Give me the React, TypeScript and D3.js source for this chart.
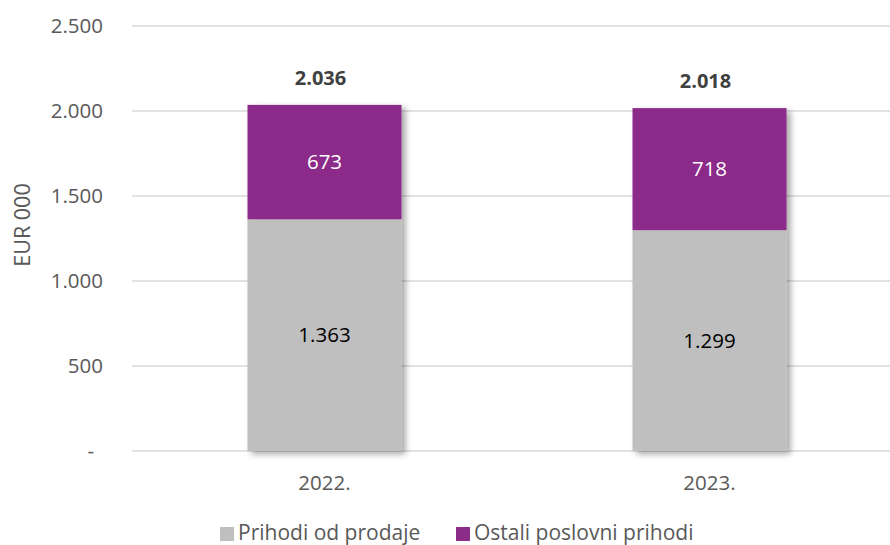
import * as d3 from 'd3'
import React, { useEffect, useRef } from 'react'

const years = ['2022.', '2023.']
const prodaja = [1363, 1299]
const ostali = [673, 718]
const totals = [2036, 2018]
const yTicks = [0, 500, 1000, 1500, 2000, 2500]
const seriesNames = ['Prihodi od prodaje', 'Ostali poslovni prihodi']
const seriesColors = ['#BFBFBF', '#8B2C89']

const fmt = (v: number) => (v === 0 ? '-' : v.toLocaleString('de-DE'))

const App = (): JSX.Element => {
    const ref = useRef<SVGSVGElement>(null)

    useEffect(() => {
        const width = 890
        const height = 545
        const font = "'Open Sans', sans-serif"
        const fs = '20.5px'
        const svg = d3.select(ref.current)
        svg.selectAll('*').remove()

        const y = d3.scaleLinear().domain([0, 2500]).range([451, 26])
        const x = d3.scaleBand().domain(years).range([132, 902]).paddingInner(0.6).paddingOuter(0.3)

        // shadow filter
        const defs = svg.append('defs')
        defs.append('filter')
            .attr('id', 'shadow')
            .attr('x', '-20%')
            .attr('y', '-20%')
            .attr('width', '150%')
            .attr('height', '150%')
            .append('feDropShadow')
            .attr('dx', 4)
            .attr('dy', 3)
            .attr('stdDeviation', 3)
            .attr('flood-color', '#000')
            .attr('flood-opacity', 0.35)

        // gridlines
        svg.append('g')
            .selectAll('line')
            .data(yTicks)
            .enter()
            .append('line')
            .attr('x1', 132)
            .attr('x2', width)
            .attr('y1', (d) => y(d))
            .attr('y2', (d) => y(d))
            .style('stroke', '#D9D9D9')
            .style('stroke-width', 1.5)

        // tick labels
        svg.append('g')
            .selectAll('text')
            .data(yTicks)
            .enter()
            .append('text')
            .attr('x', (d) => (d === 0 ? 94 : 103))
            .attr('y', (d) => y(d))
            .attr('dy', '0.35em')
            .attr('text-anchor', 'end')
            .style('font-family', font)
            .style('font-size', fs)
            .style('fill', '#595959')
            .text((d) => fmt(d))

        // axis title
        svg.append('text')
            .attr('transform', 'translate(22,225) rotate(-90)')
            .attr('dy', '0.35em')
            .attr('text-anchor', 'middle')
            .style('font-family', font)
            .style('font-size', '21.5px')
            .style('fill', '#595959')
            .text('EUR 000')

        // bars
        const bars = svg.append('g')
            .selectAll('g')
            .data(years)
            .enter()
            .append('g')
            .attr('filter', 'url(#shadow)')

        bars.append('rect')
            .attr('x', (d) => x(d) as number)
            .attr('width', x.bandwidth())
            .attr('y', (d, i) => y(prodaja[i]))
            .attr('height', (d, i) => y(0) - y(prodaja[i]))
            .style('fill', seriesColors[0])

        bars.append('rect')
            .attr('x', (d) => x(d) as number)
            .attr('width', x.bandwidth())
            .attr('y', (d, i) => y(prodaja[i] + ostali[i]))
            .attr('height', (d, i) => y(prodaja[i]) - y(prodaja[i] + ostali[i]))
            .style('fill', seriesColors[1])

        const labels = svg.append('g')
        years.forEach((yr, i) => {
            const cx = (x(yr) as number) + x.bandwidth() / 2
            labels.append('text')
                .attr('x', cx)
                .attr('y', (y(0) + y(prodaja[i])) / 2)
                .attr('dy', '0.35em')
                .attr('text-anchor', 'middle')
                .style('font-family', font)
                .style('font-size', fs)
                .style('fill', '#000')
                .text(fmt(prodaja[i]))
            labels.append('text')
                .attr('x', cx)
                .attr('y', (y(prodaja[i]) + y(prodaja[i] + ostali[i])) / 2)
                .attr('dy', '0.35em')
                .attr('text-anchor', 'middle')
                .style('font-family', font)
                .style('font-size', fs)
                .style('fill', '#fff')
                .text(fmt(ostali[i]))
            labels.append('text')
                .attr('x', cx - 4)
                .attr('y', y(totals[i]) - 27)
                .attr('dy', '0.35em')
                .attr('text-anchor', 'middle')
                .style('font-family', font)
                .style('font-size', '20px')
                .style('font-weight', 700)
                .style('fill', '#404040')
                .text(fmt(totals[i]))
            labels.append('text')
                .attr('x', cx)
                .attr('y', 483)
                .attr('dy', '0.35em')
                .attr('text-anchor', 'middle')
                .style('font-family', font)
                .style('font-size', fs)
                .style('fill', '#595959')
                .text(yr)
        })

        // legend
        const legendX = [220, 456]
        const legend = svg.append('g')
        seriesNames.forEach((name, i) => {
            legend.append('rect')
                .attr('x', legendX[i])
                .attr('y', 527)
                .attr('width', 14)
                .attr('height', 14)
                .style('fill', seriesColors[i])
            legend.append('text')
                .attr('x', legendX[i] + 18)
                .attr('y', 533)
                .attr('dy', '0.35em')
                .style('font-family', font)
                .style('font-size', '21px')
                .style('fill', '#595959')
                .text(name)
        })
        svg.attr('width', width).attr('height', height)
    }, [])

    return <svg ref={ref} style={{ position: 'absolute', left: 0, top: 0 }} />
}

export default App
